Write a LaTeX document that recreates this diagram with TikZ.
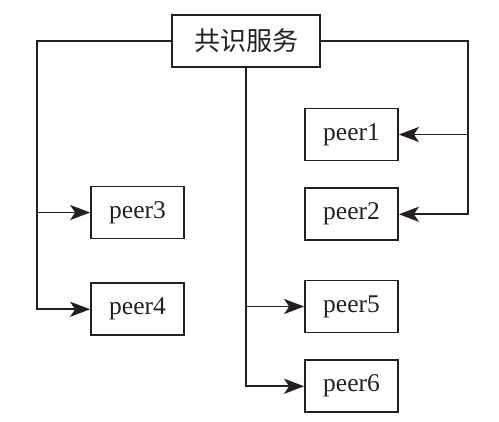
\documentclass[tikz,border=0pt]{standalone}
\usepackage{fontspec}
\setmainfont{Liberation Serif}
\newfontfamily\cjk{Noto Sans CJK SC}
\usetikzlibrary{positioning, arrows.meta}
\definecolor{ink}{HTML}{231F20}

\begin{document}
\begin{tikzpicture}[x=0.4pt, y=-0.4pt, node distance=10.4pt and 2cm,
            nodes={draw, rectangle, line width=0.7pt, minimum height=20.8pt, minimum width=37.2pt, inner sep=0pt, text=ink, font=\fontsize{10.2}{12}\selectfont},
            arrows={-Stealth[length=8pt, width=6pt, inset=2pt]}, line width=0.7pt, draw=ink]
    \useasboundingbox (0,0) rectangle (499,421);
    % Nodes
    \node[minimum width=59.2pt, font=\cjk\fontsize{10.4}{12}\selectfont] (service) at (246,41) {共识服务};
    \node (peer1) at (351.5,134.5) {peer1};
    \node[below=of peer1] (peer2) {peer2};
    \node (peer3) at (137.5,212.5) {peer3};
    \node[below=17.2pt of peer3] (peer4) {peer4};
    \node (peer5) at (351.5,306.5) {peer5};
    \node[below=of peer5] (peer6) {peer6};

    % Bus lines
    \coordinate (lbus) at (37,40);
    \coordinate (rbus) at (468,40);

    % Edges
    \draw (service.west) -| (lbus |- peer4.west) -- (peer4.west);
    \draw (lbus |- peer3.west) -- (peer3.west);
    \draw (service.east) -| (rbus |- peer2.east) -- (peer2.east);
    \draw (rbus |- peer1.east) -- (peer1.east);
    \draw (service.south) -- (service.south |- peer6.west) -- (peer6.west);
    \draw (service.south |- peer5.west) -- (peer5.west);
\end{tikzpicture}
\end{document}
